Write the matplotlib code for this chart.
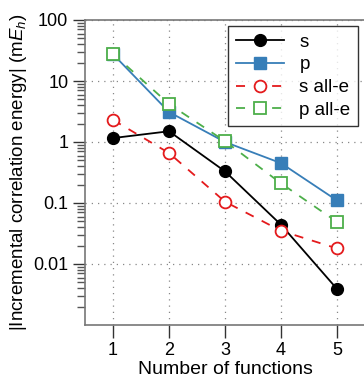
import numpy as np
import matplotlib
matplotlib.use("Agg")
import matplotlib.pyplot as plt
from matplotlib.ticker import LogLocator, FixedFormatter, FixedLocator

plt.rcParams["font.family"] = ["Liberation Sans", "DejaVu Sans"]
plt.rcParams["mathtext.fontset"] = "custom"
plt.rcParams["mathtext.rm"] = "Liberation Sans"
plt.rcParams["mathtext.it"] = "Liberation Sans:italic"

# values
n_funcs = [1, 2, 3, 4, 5]
s_vals = [1.16, 1.5, 0.33, 0.044, 0.0039]
p_vals = [27.5, 3.1, 1.0, 0.45, 0.11]
s_alle_vals = [2.3, 0.66, 0.105, 0.035, 0.018]
p_alle_vals = [28.0, 4.2, 1.03, 0.21, 0.049]
y_ticks = [0.01, 0.1, 1, 10, 100]
y_tick_labels = ["0.01", "0.1", "1", "10", "100"]

BLACK = "black"
BLUE = "#377eb8"
RED = "#e41a1c"
GREEN = "#4daf4a"

fig = plt.figure(figsize=(3.64, 3.80), dpi=100)
ax = fig.add_axes([85 / 364, 1 - 325 / 380, 280 / 364, 305 / 380])

ax.plot(n_funcs, s_vals, "-o", color=BLACK, lw=1.3, ms=8.5, label="s", zorder=4)
ax.plot(n_funcs, p_vals, "-s", color=BLUE, lw=1.3, ms=8.5, label="p", zorder=3)
ax.plot(n_funcs, s_alle_vals, "--o", color=RED, lw=1.3, ms=8.5, mfc="white",
        mew=1.3, dashes=(5, 5), label="s all-e", zorder=5)
ax.plot(n_funcs, p_alle_vals, "--s", color=GREEN, lw=1.3, ms=8.5, mfc="white",
        mew=1.3, dashes=(5, 5), label="p all-e", zorder=5)

ax.set_yscale("log")
ax.set_ylim(1e-3, 100)
ax.set_xlim(0.5, 5.5)
ax.set_xticks(n_funcs)
ax.yaxis.set_major_locator(FixedLocator(y_ticks))
ax.yaxis.set_major_formatter(FixedFormatter(y_tick_labels))
ax.yaxis.set_minor_locator(LogLocator(base=10, subs=np.arange(2, 10)))

ax.grid(True, which="major", color="#888888", linestyle=(0, (1, 4)), lw=0.9)
ax.tick_params(axis="both", which="major", labelsize=13, direction="out",
               length=9, width=1, color="#333333", pad=3)
ax.tick_params(axis="y", which="minor", direction="out", length=5.5, width=1,
               color="#555555")

for side in ["left", "bottom", "top"]:
    ax.spines[side].set_color("#777777")
    ax.spines[side].set_linewidth(1.2)
ax.spines["right"].set_visible(False)

ax.set_xlabel("Number of functions", fontsize=14, labelpad=2)
ax.set_ylabel("|Incremental correlation energy| (m$E_h$)", fontsize=13.5,
              labelpad=3)

leg = ax.legend(loc="upper right", bbox_to_anchor=(273 / 280, 299 / 305),
                fontsize=13.5, frameon=True, fancybox=False, edgecolor="black",
                handlelength=2.6, borderpad=0.4, labelspacing=0.3,
                handletextpad=0.8, borderaxespad=0)
leg.get_frame().set_linewidth(1.0)

fig.savefig("out.png", dpi=100)
